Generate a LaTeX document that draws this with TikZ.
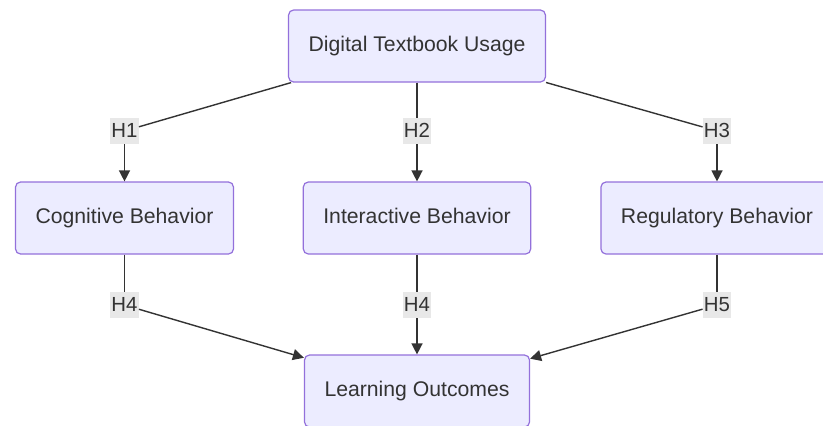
\documentclass[tikz,border=0pt]{standalone}
\usepackage{fontspec}
\setmainfont{Liberation Sans}
\usetikzlibrary{arrows.meta}
\definecolor{cnodo}{RGB}{236,236,255}
\definecolor{cborde}{RGB}{147,112,219}
\definecolor{clinea}{RGB}{51,51,51}
\definecolor{cetiq}{RGB}{232,232,232}

\begin{document}
\begin{tikzpicture}[x=0.5pt, y=-0.5pt, >={Triangle[length=5.5pt,width=5.5pt]},
    box/.style={draw=cborde, fill=cnodo, line width=0.6pt, rounded corners=2.5pt, minimum height=36pt,
                inner xsep=10pt, text height=0.72em, text depth=0.22em, text=clinea,
                font=\fontsize{10.6pt}{13pt}\selectfont},
    hyp/.style={fill=cetiq, inner xsep=0.5pt, inner ysep=2.5pt, text height=0.72em, text depth=0.05em,
                text=clinea, font=\fontsize{10.2pt}{12pt}\selectfont},
    link/.style={draw=clinea, line width=0.7pt}]

  \useasboundingbox (0,0) rectangle (823,425);

  \node[box] (U) at (417,46)    {Digital Textbook Usage};
  \node[box] (C) at (124.5,218) {Cognitive Behavior};
  \node[box] (I) at (417,218)   {Interactive Behavior};
  \node[box] (R) at (717,218)   {Regulatory Behavior};
  \node[box] (L) at (417,391)   {Learning Outcomes};

  % hypotheses
  \node[hyp] (H1) at (124.5,131) {H1};
  \node[hyp] (H2) at (417,131)   {H2};
  \node[hyp] (H3) at (717,131)   {H3};
  \node[hyp] (H4a) at (124.5,305) {H4};
  \node[hyp] (H4b) at (417,305)   {H4};
  \node[hyp] (H5) at (717,305)    {H5};

  \foreach \a/\b in {U/H1,U/H2,U/H3,C/H4a,I/H4b,R/H5} \draw[link] (\a) -- (\b);
  \foreach \a/\b in {H1/C,H2/I,H3/R,H4a/L,H4b/L,H5/L} \draw[link,->] (\a) -- (\b);
\end{tikzpicture}
\end{document}
